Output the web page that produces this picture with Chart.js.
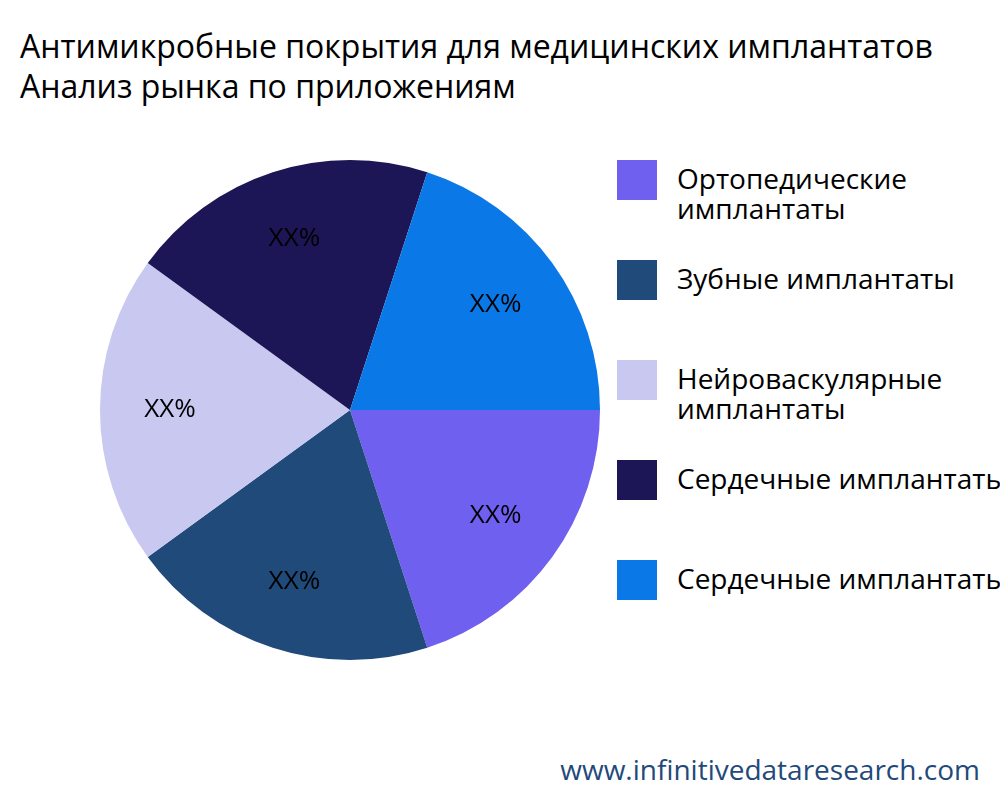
<!DOCTYPE html>
<html lang="ru">
<head>
  <meta charset="UTF-8" />
  <title>Антимикробные покрытия</title>
  <script src="https://cdn.jsdelivr.net/npm/chart.js"></script>
  <style>
    * { box-sizing: border-box; margin: 0; padding: 0; }
    body {
      width: 1000px; height: 800px; overflow: hidden; position: relative;
      background: #fff; font-family: 'Open Sans', 'Noto Sans', sans-serif; color: #000;
    }
    h1 {
      position: absolute; left: 20px; top: 26px; white-space: nowrap;
      font-size: 32px; font-weight: 400; line-height: 40px;
    }
    #pie-box { position: absolute; left: 100px; top: 160px; width: 500px; height: 500px; }
    #legend { position: absolute; left: 617px; top: 160px; }
    .item { position: absolute; left: 0; width: 400px; display: flex; }
    .swatch { width: 40px; height: 40px; flex: none; }
    .label { margin-left: 20px; font-size: 28px; line-height: 30px; white-space: nowrap; margin-top: 3px; }
    #site {
      position: absolute; right: 20px; top: 750px; font-size: 28px; color: #1f4a7a;
    }
  </style>
</head>
<body>
  <h1>Антимикробные покрытия для медицинских имплантатов<br>Анализ рынка по приложениям</h1>
  <div id="pie-box"><canvas id="pie" width="500" height="500"></canvas></div>
  <div id="legend"></div>
  <div id="site">www.infinitivedataresearch.com</div>

  <script>
    const categories = [
      'Ортопедические имплантаты',
      'Зубные имплантаты',
      'Нейроваскулярные имплантаты',
      'Сердечные имплантаты',
      'Сердечные имплантаты'
    ];
    const legendLabels = [
      'Ортопедические<br>имплантаты',
      'Зубные имплантаты',
      'Нейроваскулярные<br>имплантаты',
      'Сердечные имплантаты',
      'Сердечные имплантаты'
    ];
    const values = [20, 20, 20, 20, 20];
    const sliceLabels = ['XX%', 'XX%', 'XX%', 'XX%', 'XX%'];
    const colors = ['#7060f0', '#1f4a7a', '#c8c8f0', '#1c1656', '#0a78e6'];

    const legend = document.getElementById('legend');
    legendLabels.forEach((text, i) => {
      const div = document.createElement('div');
      div.className = 'item';
      div.style.top = (i * 100) + 'px';
      div.innerHTML = `<div class="swatch" style="background:${colors[i]}"></div><div class="label">${text}</div>`;
      legend.appendChild(div);
    });

    // draw "XX%" inside each slice
    const sliceText = {
      id: 'sliceText',
      afterDatasetsDraw(chart) {
        const ctx = chart.ctx;
        ctx.save();
        ctx.font = '26px "Open Sans", "Noto Sans", sans-serif';
        ctx.fillStyle = '#000';
        ctx.textAlign = 'center';
        ctx.textBaseline = 'middle';
        chart.getDatasetMeta(0).data.forEach((arc, i) => {
          const mid = (arc.startAngle + arc.endAngle) / 2;
          const r = arc.outerRadius * 0.72;
          ctx.fillText(sliceLabels[i], arc.x + Math.cos(mid) * r, arc.y + Math.sin(mid) * r);
        });
        ctx.restore();
      }
    };

    new Chart(document.getElementById('pie'), {
      type: 'pie',
      data: {
        labels: categories,
        datasets: [{ data: values, backgroundColor: colors, borderWidth: 0 }]
      },
      options: {
        responsive: false,
        animation: false,
        rotation: 90,
        layout: { padding: 0 },
        plugins: { legend: { display: false }, tooltip: { enabled: false } }
      },
      plugins: [sliceText]
    });
  </script>
</body>
</html>
